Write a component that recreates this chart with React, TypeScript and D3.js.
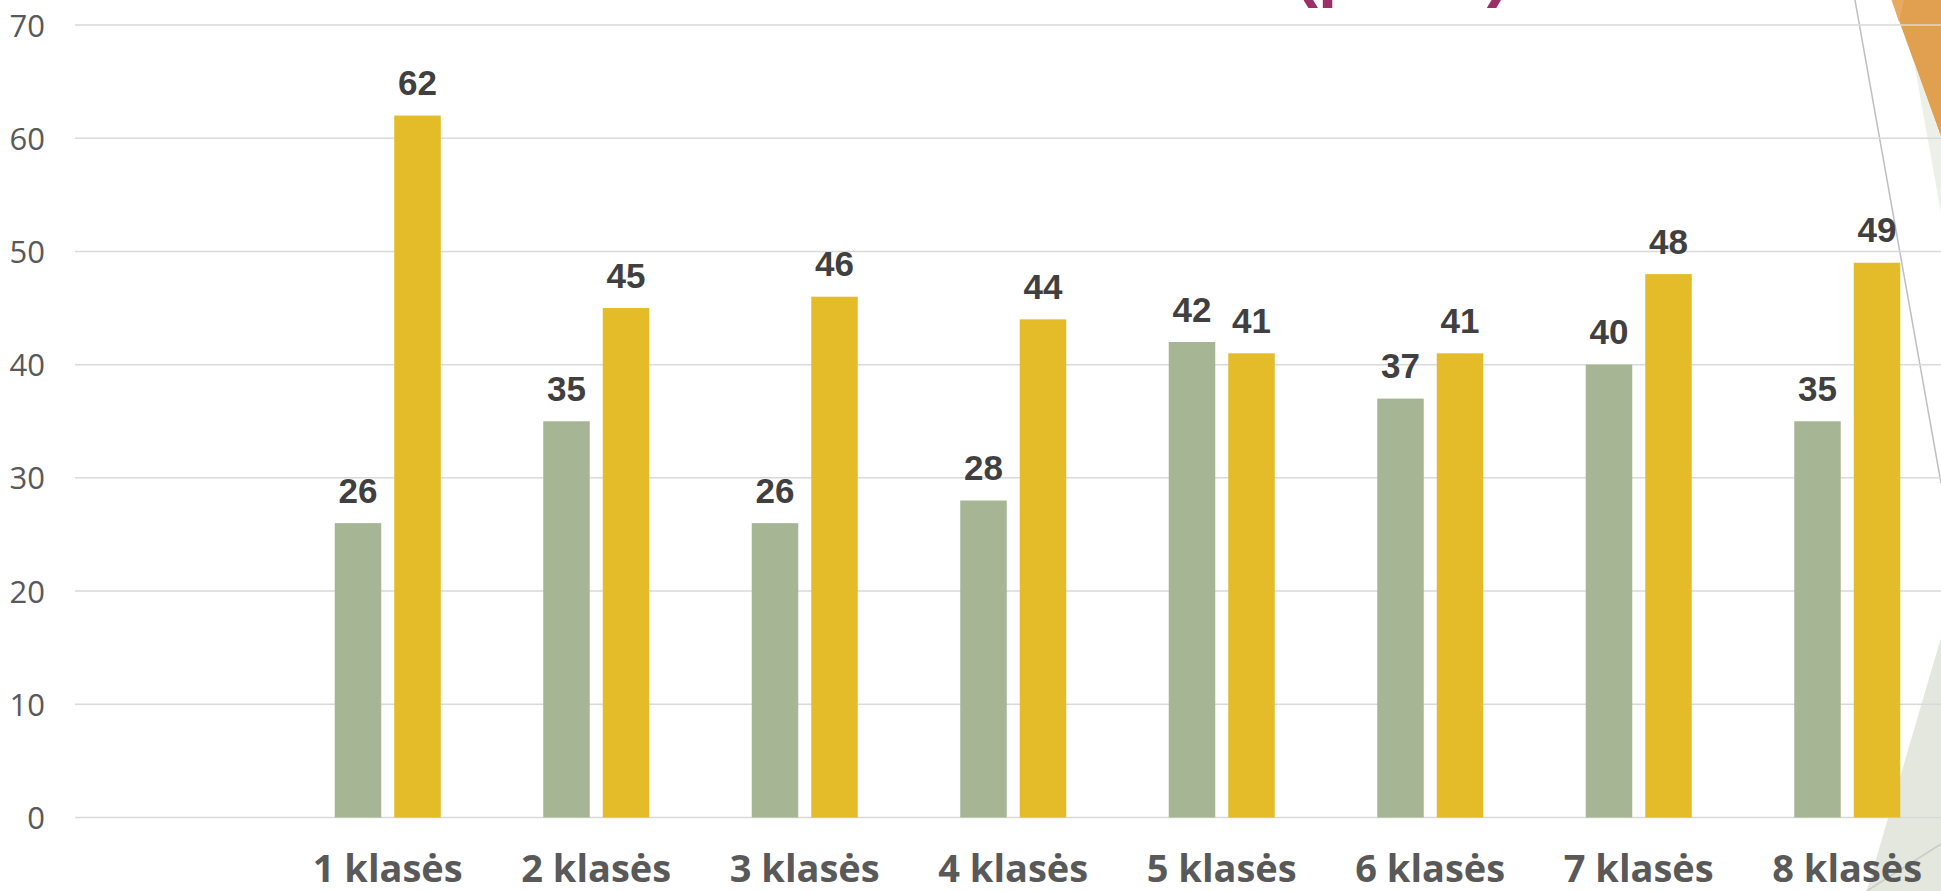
import React from "react";
import * as d3 from "d3";

const categories = ["1 klasės", "2 klasės", "3 klasės", "4 klasės", "5 klasės", "6 klasės", "7 klasės", "8 klasės"];
const seriesNames = ["A", "B"];
const seriesA = [26, 35, 26, 28, 42, 37, 40, 35];
const seriesB = [62, 45, 46, 44, 41, 41, 48, 49];
const yTicks = [0, 10, 20, 30, 40, 50, 60, 70];
const colors = ["#A6B593", "#E4BC29"];
const titleFragment = "(proc.)";

const W = 1941;
const H = 891;

export default function App() {
  const y = d3.scaleLinear().domain([0, 70]).range([817.5, 25]);
  // leading empty slot, as in the original layout
  const x0 = d3.scaleBand<string>().domain(["", ...categories]).range([75, 1951.5]).paddingInner(0).paddingOuter(0);
  const groupW = 106;
  const x1 = d3.scaleBand<string>().domain(seriesNames).range([0, groupW]).paddingInner(0.2185).paddingOuter(0);
  const series = [seriesA, seriesB];

  return (
    <svg width={W} height={H} style={{ position: "fixed", left: 0, top: 0, background: "#fff" }}>
      <rect x={0} y={0} width={W} height={H} fill="#ffffff" />
      {/* decorative shapes on the right */}
      <polygon points="1891.7,0 1941,0 1941,137" fill="#E0A050" />
      <polygon points="1891.7,0 1904,0 1899,22" fill="#E8AA60" />
      <polygon points="1914,62 1941,137 1941,213" fill="#EDF0E9" />
      <polygon points="1941,637.7 1941,891 1866.7,891" fill="#E3E7DE" />
      <line x1={1941} y1={844} x2={1866.7} y2={891} stroke="#C9CEC3" strokeWidth={1.5} />
      <line x1={1855} y1={0} x2={1941} y2={483} stroke="#BFBFBF" strokeWidth={1.5} />
      {/* cut-off title */}
      <text x={1295} y={-6} fontFamily="'Liberation Sans', Arial, sans-serif" fontWeight={700} fontSize={69} fill="#9B3068">
        {titleFragment}
      </text>
      {/* gridlines */}
      {yTicks.map((t) => (
        <line key={"g" + t} x1={75} x2={W} y1={y(t)} y2={y(t)} stroke="#D9D9D9" strokeWidth={1.5} />
      ))}
      {yTicks.map((t) => (
        <text key={"t" + t} x={45} y={y(t) + 11.5} textAnchor="end" fontFamily="'Open Sans', sans-serif" fontSize={31} fill="#595959">
          {t}
        </text>
      ))}
      {/* bars */}
      {categories.map((c, i) => {
        const cx = (x0(c) as number) + x0.bandwidth() / 2;
        const gx = cx - groupW / 2;
        return (
          <g key={c}>
            {series.map((s, si) => {
              const bx = gx + (x1(seriesNames[si]) as number);
              const bw = x1.bandwidth();
              return (
                <g key={si}>
                  <rect x={bx} y={y(s[i])} width={bw} height={y(0) - y(s[i])} fill={colors[si]} />
                  <text
                    x={bx + bw / 2}
                    y={y(s[i]) - 20.5}
                    textAnchor="middle"
                    fontFamily="'Liberation Sans', Arial, sans-serif"
                    fontWeight={700}
                    fontSize={35}
                    fill="#404040"
                  >
                    {s[i]}
                  </text>
                </g>
              );
            })}
            <text x={cx} y={881.7} textAnchor="middle" fontFamily="'Open Sans', sans-serif" fontWeight={700} fontSize={38} fill="#595959">
              {c}
            </text>
          </g>
        );
      })}
    </svg>
  );
}
